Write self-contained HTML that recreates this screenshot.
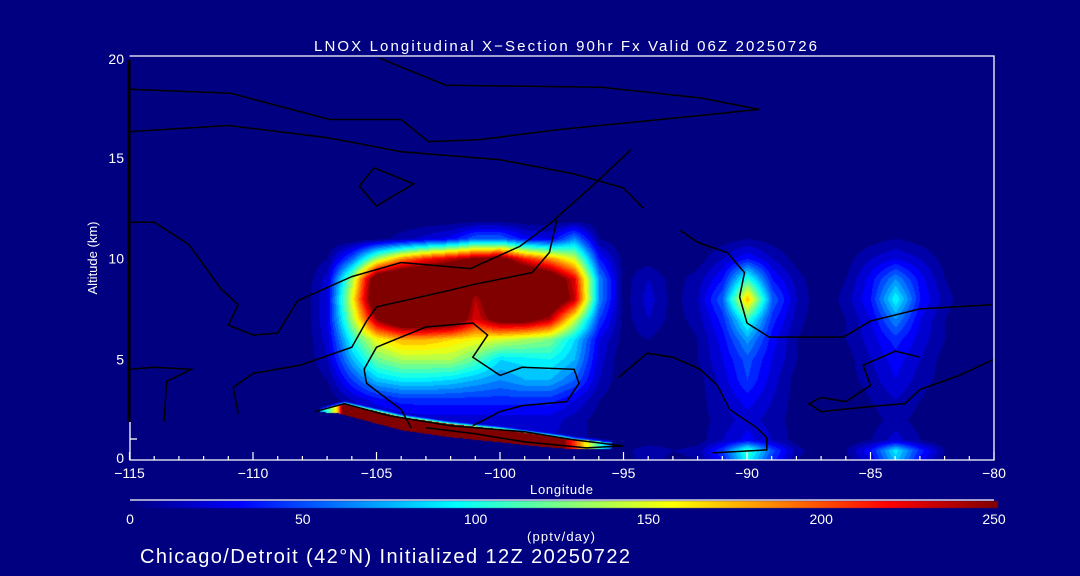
<!DOCTYPE html>
<html><head><meta charset="utf-8"><style>
html,body{margin:0;padding:0;background:#000080;}
#wrap{position:relative;width:1080px;height:576px;background:#000080;overflow:hidden;font-family:"Liberation Sans",sans-serif;}
canvas,svg{position:absolute;left:0;top:0;}
</style></head><body>
<div id="wrap">
<canvas id="cv" width="1080" height="576"></canvas>
<svg id="sv" width="1080" height="576"></svg>
</div>
<script>
// ---- data ----
const gridLons = [-108,-107,-106,-105,-104,-103,-102,-101,-100,-99,-98,-97,-96,-95,-94,-93,-92,-91,-90,-89,-88,-87,-86,-85,-84,-83,-82,-81];
const gridAlts = [12,11,10,9,8,7,6,5,4,3,2,1,0.5,0];
const gridValues = [
[0,0,0,0,0,0,0,0,0,0,0,0,0,0,0,0,0,0,0,0,0,0,0,0,0,0,0,0],
[0,0,0,5,15,25,35,60,60,35,30,70,10,0,0,0,0,5,10,5,0,0,0,5,10,5,0,0],
[0,10,60,140,190,220,240,260,270,220,190,150,40,5,5,0,5,20,40,20,5,0,5,20,30,20,5,0],
[0,25,140,290,320,320,320,300,320,320,290,230,70,5,20,5,15,40,110,40,15,0,10,35,70,35,10,0],
[0,30,160,300,320,320,320,240,300,320,300,240,70,5,25,5,20,60,180,60,20,0,15,40,100,40,15,0],
[0,30,140,250,300,300,290,230,270,270,240,150,50,5,20,5,15,45,110,45,15,0,10,30,70,30,10,0],
[0,25,105,160,180,180,170,160,150,140,130,90,30,5,10,0,10,35,75,35,10,0,10,25,45,25,10,0],
[0,20,80,125,140,140,140,120,90,95,100,80,25,0,0,0,10,30,55,30,10,0,5,20,35,20,5,0],
[0,10,50,85,95,95,90,80,70,80,80,60,20,0,0,0,5,25,50,25,5,0,5,15,30,15,5,0],
[0,0,20,35,45,45,45,45,45,45,45,30,10,0,0,0,5,20,35,20,5,0,0,10,20,10,0,0],
[0,0,5,15,20,25,25,25,25,25,25,15,5,0,0,0,5,15,25,15,5,0,0,5,15,5,0,0],
[0,0,0,0,0,5,10,15,20,20,20,15,5,0,0,0,5,20,35,20,5,0,0,10,25,10,0,0],
[0,0,0,0,0,0,0,0,0,0,0,0,0,5,20,10,15,50,115,55,15,0,10,40,95,45,10,0],
[0,0,0,0,0,0,0,0,0,0,0,0,0,5,15,5,10,40,100,45,10,0,5,30,85,35,5,0]
];
const bandLon = [-107.3,-106.6,-106.3,-104,-102,-100,-98.5,-97.5,-97,-96.5,-96,-95.5];
const bandTop = [2.55,2.75,2.8,2.15,1.8,1.55,1.3,1.15,1.05,1.0,0.95,0.9];
const bandBot = [2.4,2.35,2.25,1.5,1.15,0.9,0.7,0.6,0.55,0.55,0.55,0.6];
const bandVal = [70,170,300,300,300,300,300,260,210,160,110,60];
const xTicks = [-115,-110,-105,-100,-95,-90,-85,-80];
const yTicks = [0,5,10,15,20];
const cbTicks = [0,50,100,150,200,250];
const contours = [
 [[-104.9,19.95],[-102.2,18.6],[-95.9,18.5],[-91.9,17.97],[-89.5,17.4],[-93.5,16.9],[-97.6,16.4],[-100.8,15.9],[-102.9,15.8],[-104,16.9],[-106.9,16.9],[-110.9,18.2],[-115,18.4]],
 [[-115,16.3],[-111,16.6],[-107,16.0],[-104,15.3],[-100,14.9],[-97,14.2],[-95,13.5],[-94.2,12.5]],
 [[-105.1,14.5],[-103.5,13.7],[-105.0,12.6],[-105.7,13.6],[-105.1,14.5]],
 [[-115,11.8],[-114,11.8],[-112.6,10.7],[-111.3,8.5],[-110.6,7.7],[-111,6.7],[-110,6.2],[-109,6.3],[-108.2,7.9],[-106,9.1],[-104,9.8],[-101.2,9.5],[-99.2,10.6],[-98,11.7],[-96,13.9],[-94.7,15.4]],
 [[-110.6,2.3],[-110.8,3.6],[-110,4.3],[-108.1,4.7],[-106,5.6],[-105.4,6.9],[-105,7.6],[-102.1,8.4],[-101.1,8.7],[-98.7,9.3],[-98,10.3],[-97.7,11.9]],
 [[-103.6,1.6],[-104.0,2.5],[-105.4,3.8],[-105.5,4.5],[-105,5.6],[-103,6.6],[-101.1,6.8],[-100.5,6.2],[-101.1,5.1],[-100,4.2],[-99.1,4.6],[-97,4.5],[-96.8,3.8],[-97.3,2.9],[-99.1,2.7],[-100,2.4],[-101.1,1.7]],
 [[-92.7,11.4],[-92,10.8],[-90.8,10.3],[-90.1,9.3],[-90.3,8.1],[-90,6.8],[-89.1,6.1],[-86.1,6.1],[-85,6.9],[-83,7.5],[-80.1,7.7]],
 [[-95.2,4.1],[-94.05,5.3],[-93,5.1],[-91.9,4.5],[-91.2,3.7],[-90.7,2.5],[-89.6,1.6],[-89.2,1.1],[-89.2,0.5],[-91.4,0.35]],
 [[-83,5.1],[-84,5.4],[-85.3,4.7],[-85,3.7],[-86,2.9],[-87,3.1],[-87.5,2.8],[-87,2.4],[-84.6,2.7],[-83.6,2.8],[-83,3.5],[-81.4,4.2],[-80,5]],
 [[-115,4.5],[-114,4.6],[-112.5,4.5],[-113.5,3.9],[-113.6,1.9]],
 [[-107.5,2.4],[-106.3,2.8],[-104.5,2.2],[-102,1.7],[-99,1.4],[-97,1.0],[-95,0.7],[-96.5,0.6],[-99,0.9],[-101,1.3],[-103,1.6]]
];
// ---- axes ----
const X0=129.5, PXD=24.7, Y0=460, PXK=20.15;
const xs = lon => X0 + (lon+115)*PXD;
const ys = alt => Y0 - alt*PXK;
const lonAt = x => -115 + (x-X0)/PXD;
const altAt = y => (Y0-y)/PXK;
function jet(t){t=Math.max(0,Math.min(1,t));const c=v=>Math.round(255*Math.max(0,Math.min(1,v)));
 return [c(1.5-Math.abs(4*t-3)),c(1.5-Math.abs(4*t-2)),c(1.5-Math.abs(4*t-1))];}
function interp1(arr,xarr,x){ if(x<=xarr[0])return arr[0]; for(let i=0;i<xarr.length-1;i++){ if(x<=xarr[i+1]){const f=(x-xarr[i])/(xarr[i+1]-xarr[i]);return arr[i]+f*(arr[i+1]-arr[i]);}} return arr[arr.length-1];}
function gridVal(lon,alt){
 if(lon<gridLons[0]||lon>gridLons[gridLons.length-1]||alt>gridAlts[0]||alt<0)return 0;
 let ci=Math.min(gridLons.length-2,Math.floor(lon-gridLons[0])); const fx=(lon-gridLons[ci])/(gridLons[ci+1]-gridLons[ci]);
 let ri=0; while(ri<gridAlts.length-2 && alt<gridAlts[ri+1]) ri++;
 const fy=(gridAlts[ri]-alt)/(gridAlts[ri]-gridAlts[ri+1]);
 const a=gridValues[ri][ci],b=gridValues[ri][ci+1],c=gridValues[ri+1][ci],d=gridValues[ri+1][ci+1];
 return (a*(1-fx)+b*fx)*(1-fy)+(c*(1-fx)+d*fx)*fy;
}
const cv=document.getElementById('cv'),ctx=cv.getContext('2d');
const img=ctx.createImageData(1080,576);
for(let y=0;y<576;y++)for(let x=0;x<1080;x++){const k=(y*1080+x)*4;img.data[k]=0;img.data[k+1]=0;img.data[k+2]=128;img.data[k+3]=255;}
const bL=bandLon[0],bR=bandLon[bandLon.length-1];
for(let y=58;y<460;y++)for(let x=130;x<994;x++){
 const lon=lonAt(x),alt=altAt(y);
 let v=gridVal(lon,alt);
 if(lon>=bL&&lon<=bR){
  const tp=interp1(bandTop,bandLon,lon),bt=interp1(bandBot,bandLon,lon),bv=interp1(bandVal,bandLon,lon);
  if(alt<=tp&&alt>=bt) v=bv;
  else if(alt>tp&&alt<tp+0.15) v=Math.max(v,bv*0.45*(1-(alt-tp)/0.15)+v*((alt-tp)/0.15));
  else if(alt<bt) v=0;
 }
 v=Math.floor(v/10)*10;
 const c=jet(v/250),k=(y*1080+x)*4; img.data[k]=c[0];img.data[k+1]=c[1];img.data[k+2]=c[2];
}
for(let x=130;x<=997;x++){const c=jet((x-130)/(997-130));for(let y=501;y<508;y++){const k=(y*1080+x)*4;img.data[k]=c[0];img.data[k+1]=c[1];img.data[k+2]=c[2];}}
ctx.putImageData(img,0,0);
// ---- svg overlay ----
const NS='http://www.w3.org/2000/svg',sv=document.getElementById('sv');
function mk(tag,attrs,parent){const e=document.createElementNS(NS,tag);for(const k in attrs)e.setAttribute(k,attrs[k]);(parent||sv).appendChild(e);return e;}
function txt(s,attrs){const e=mk('text',Object.assign({fill:'#fff','font-family':'Liberation Sans, sans-serif'},attrs));e.textContent=s;return e;}
contours.forEach((c,i)=>{
 const p=mk('polyline',{points:c.map(q=>xs(q[0]).toFixed(1)+','+ys(q[1]).toFixed(1)).join(' '),fill:'none',stroke:'#000','stroke-width':1.5});
 
 
});
const lb=mk('line',{x1:129,y1:60,x2:129,y2:422,stroke:'#000','stroke-width':3});


const frame=mk('path',{d:`M${xs(-115)},${ys(20)-1}H${xs(-80)}V${Y0}H${xs(-115)}`,fill:'none',stroke:'#fff','stroke-width':1.3});


mk('line',{x1:130,y1:422,x2:130,y2:460,stroke:'#fff','stroke-width':1.3});
mk('line',{x1:130,y1:439,x2:137,y2:439,stroke:'#fff','stroke-width':1.3});
for(let lon=-115;lon<=-80;lon++){
 const major=xTicks.includes(lon);
 const t=mk('line',{x1:xs(lon),x2:xs(lon),y1:Y0,y2:Y0-(major?8:4),stroke:'#fff','stroke-width':1.2});
 
 
}
xTicks.forEach(v=>{const t=txt('\u2212'+Math.abs(v),{x:xs(v),y:478,'font-size':14,'text-anchor':'middle'});
 
 });
yTicks.forEach(v=>{const t=txt(String(v),{x:124,y:ys(v)+(v==20?7:v==0?3:5),'font-size':14,'text-anchor':'end'});
 
 });
const cbl=mk('line',{x1:130,y1:500,x2:994,y2:500,stroke:'#fff','stroke-width':1.3});


cbTicks.forEach(v=>{const t=txt(String(v),{x:130+v/250*864,y:524,'font-size':14,'text-anchor':'middle'});
 
 });
let t;
t=txt('LNOX Longitudinal X\u2212Section 90hr  Fx Valid 06Z 20250726',{x:314,y:51,'font-size':15,textLength:503,lengthAdjust:'spacing'});


t=txt('Longitude',{x:530,y:494,'font-size':13,textLength:63,lengthAdjust:'spacing'});


t=txt('Altitude (km)',{x:0,y:0,'font-size':13,'text-anchor':'middle',transform:'translate(97,258) rotate(-90)'});


t=txt('(pptv/day)',{x:527,y:541,'font-size':13,textLength:68,lengthAdjust:'spacing'});


t=txt('Chicago/Detroit (42\u00B0N) Initialized 12Z 20250722',{x:140,y:563,'font-size':20,textLength:490,lengthAdjust:'spacing'});


</script>
</body></html>
